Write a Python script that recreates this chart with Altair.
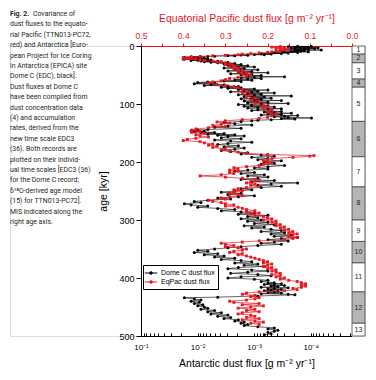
import altair as alt
import pandas as pd

RED = "#e8161e"

# ---------------- data ----------------
dome_age = [0.5, 1, 1.5, 2, 2.5, 3, 3.5, 4, 4.5, 5, 5.5, 6, 6.5, 7, 7.5, 8, 8.5, 9, 9.5, 10,
            10.5, 11, 11.5, 12, 12.5, 13, 13.5, 14, 14.5, 15, 15.5, 16, 16.5, 17, 17.5, 18,
            18.5, 19, 19.5, 20, 20.5, 21, 21.5, 22, 22.5, 23, 23.5, 24, 24.5, 25, 25.5, 26,
            26.5, 27, 27.5, 28, 28.5,
            29, 30, 31, 32, 33, 34, 35, 36, 37, 38, 39, 40, 41, 42, 43, 44, 45, 46, 47, 48, 49,
            50, 51, 52, 53, 54, 55, 56, 57,
            58, 59, 60, 61, 62, 63, 64, 65, 66, 67, 68, 69, 70, 71,
            72, 73, 74, 75, 76, 77, 78, 79, 80, 81, 82, 83, 84, 85, 86, 87, 88, 89, 90, 91, 92,
            93, 94, 95, 96, 97, 98, 99, 100, 101, 102, 103, 104, 105, 106, 107, 108, 109, 110,
            111, 112, 113, 114, 115, 116, 117, 118, 119, 120, 121, 122, 123, 124, 125, 126, 127,
            128, 129, 130,
            132, 134, 136, 138, 140, 142, 144, 145, 146, 147, 148, 149, 150, 151, 152, 153, 154,
            155, 156, 158, 160, 162, 164, 166, 168, 170, 172, 174, 176, 178, 180, 182, 184,
            186, 188, 190, 192, 194, 196, 198, 200, 202, 204, 206, 208, 210, 212, 214, 216, 218,
            220, 222, 224, 226, 228, 230, 232, 234, 236, 238, 240, 242, 244, 246,
            248, 250, 252, 254, 256, 258, 260, 262, 264, 266, 268, 270, 272, 274, 276, 278, 280,
            282, 284, 286, 288, 290, 292, 294, 296, 298, 300,
            302, 304, 306, 308, 310, 312, 314, 316, 318, 320, 322, 324, 326, 328, 330, 332, 334,
            336, 338,
            340, 342, 344, 346, 348, 350, 352, 354, 356, 358, 360, 362, 364, 366, 368, 370,
            372, 374, 376, 378, 380, 382, 384, 386, 388, 390, 392, 394, 396, 398, 400, 402, 404,
            406, 408, 409, 410, 411, 412, 413, 414, 415, 416, 417, 418, 419, 420, 421, 422, 423,
            424, 425, 426, 427, 428, 429,
            431, 433, 434, 436, 438, 440, 442, 444, 446, 448, 450, 452, 454, 456, 458, 460, 462,
            464, 466, 468, 470, 472,
            474, 476, 478, 480, 482, 484, 486, 488, 490, 492, 494, 496, 498]

dome_flux = [0.00017, 0.000097, 0.00025, 0.00011, 0.00019, 0.000074, 0.00015, 0.00022, 0.000085,
             0.00013, 0.00029, 0.00011, 0.00017, 0.000065, 0.00019, 0.00013, 0.00033, 0.00015,
             0.00022, 0.00011, 0.00029, 0.00017, 0.00044, 0.00025, 0.00057, 0.00033, 0.00075,
             0.00050, 0.00099, 0.00066, 0.0017, 0.0013, 0.0029, 0.0022, 0.0050, 0.0066,
             0.0130, 0.0087, 0.0171, 0.0099, 0.0149, 0.0076, 0.0130, 0.0066, 0.0114, 0.0171,
             0.0087, 0.0058, 0.0099, 0.0130, 0.0066, 0.0087, 0.0044, 0.0076, 0.0038, 0.0058,
             0.0029,
             0.0044, 0.0022, 0.0034, 0.0017, 0.0029, 0.0013, 0.0026, 0.00099, 0.0019, 0.0034,
             0.0015, 0.0022, 0.00086, 0.0017, 0.0029, 0.0011, 0.0019, 0.00057, 0.0015, 0.0026,
             0.0011, 0.0017, 0.00075, 0.0013, 0.00029, 0.00099, 0.0017, 0.00075, 0.0013,
             0.0022, 0.0011, 0.0034, 0.0017, 0.0066, 0.0099, 0.0050, 0.0114, 0.0058, 0.0034,
             0.0076, 0.0029, 0.0019, 0.0038,
             0.0017, 0.0029, 0.00099, 0.0019, 0.00057, 0.0015, 0.00086, 0.0026, 0.0011, 0.00044,
             0.0013, 0.00075, 0.0019, 0.00099, 0.00022, 0.0015, 0.00066, 0.0011, 0.00050, 0.0017,
             0.00075, 0.00099, 0.00033, 0.0015, 0.00086, 0.00057, 0.0013, 0.00025, 0.00075,
             0.0019, 0.0011, 0.00057, 0.0015, 0.00044, 0.00086, 0.0013, 0.00033, 0.00057,
             0.00086, 0.0011, 0.00050, 0.00033, 0.00066, 0.00044, 0.00022, 0.00057, 0.00033,
             0.00075, 0.00017, 0.00029, 0.00044, 0.00025, 0.000097, 0.00033, 0.00019, 0.00050,
             0.00086, 0.0011, 0.0017,
             0.0034, 0.0022, 0.0011, 0.0029, 0.0050, 0.0017, 0.0066, 0.0099, 0.0130, 0.0076,
             0.0114, 0.0050, 0.0087, 0.0034, 0.0066, 0.0022, 0.0044, 0.0015, 0.0029, 0.0038,
             0.0017, 0.0050, 0.0026, 0.0011, 0.0029, 0.0044, 0.0019, 0.0034, 0.0015, 0.0022,
             0.0038, 0.0026, 0.0013,
             0.0017, 0.00075, 0.00044, 0.0011, 0.00057, 0.00086, 0.00033, 0.00066, 0.00044,
             0.00075, 0.00029, 0.00057, 0.00099, 0.00057, 0.0013, 0.0022, 0.00099, 0.0017,
             0.00066, 0.0013, 0.00057, 0.00086, 0.0017, 0.00044, 0.0011, 0.00017, 0.00050,
             0.00086, 0.00033, 0.00075, 0.0017,
             0.0011, 0.0022, 0.0038, 0.0017, 0.0029, 0.00099, 0.0019, 0.0044, 0.0026, 0.0066,
             0.0114, 0.0087, 0.0171, 0.0130, 0.0066, 0.0099, 0.0044, 0.0022, 0.0038, 0.0017,
             0.00099, 0.0019, 0.00057, 0.0013, 0.00086, 0.0017, 0.00075,
             0.0013, 0.00057, 0.00099, 0.00044, 0.0015, 0.00066, 0.0011, 0.00050, 0.00033,
             0.00075, 0.00029, 0.00050, 0.00022, 0.00044, 0.00017, 0.00033, 0.00057, 0.00025,
             0.00044,
             0.00075, 0.00033, 0.00086, 0.0017, 0.0029, 0.0050, 0.0099, 0.0066, 0.0114, 0.0044,
             0.0076, 0.0034, 0.0050, 0.0022, 0.0038, 0.0017,
             0.0011, 0.0022, 0.00086, 0.0015, 0.00066, 0.0019, 0.0029, 0.0011, 0.00057, 0.0013,
             0.0026, 0.00086, 0.00050, 0.0017, 0.0029, 0.00099, 0.00057, 0.00075, 0.00044,
             0.00057, 0.00033, 0.00066, 0.00044, 0.00029, 0.00050, 0.00038, 0.00075, 0.00025,
             0.00044, 0.00057, 0.00033, 0.00050, 0.00066, 0.00038, 0.00044, 0.00057, 0.00033,
             0.00075, 0.00025, 0.00019,
             0.00086, 0.0044, 0.0171, 0.0114, 0.0087, 0.0130, 0.0093, 0.0114, 0.0081, 0.0099,
             0.0076, 0.0066, 0.0087, 0.0050, 0.0066, 0.0038, 0.0058, 0.0029, 0.0044, 0.0026,
             0.0034, 0.0019,
             0.0022, 0.0015, 0.0017, 0.0013, 0.0015, 0.00086, 0.00044, 0.00057, 0.00038,
             0.00044, 0.00057, 0.00050, 0.00066]

eq_age = [1, 2, 3, 4, 5, 6, 7, 8, 9, 10, 11, 12, 13, 14, 15, 16, 17, 18, 19, 20, 21, 22, 23,
          24, 25, 26, 27, 28, 29, 30,
          32, 34, 36, 38, 40, 42, 44, 46, 48, 50, 52, 54, 56,
          58, 60, 62, 64, 66, 68, 70,
          72, 75, 78, 81, 84, 87, 90, 93, 96, 99, 102, 105, 108, 111, 114, 117, 120, 123, 125,
          127, 129, 131, 133, 135, 137, 139, 141, 143, 145, 147, 149, 151, 153, 155, 157, 159,
          161, 163, 165, 167, 169, 171, 173, 175, 177, 179, 181, 183,
          185, 187, 189, 190, 192, 194, 196, 198, 200, 202, 204, 206,
          208, 210, 212, 214, 216, 218, 220, 222, 224, 226, 228, 230, 232,
          234, 236, 238, 240, 242,
          244, 246, 248, 250, 252, 254, 256, 258,
          260, 262, 264, 266, 268, 270, 272, 274, 276,
          278, 280, 282, 284, 286, 288, 290, 292,
          294, 296, 298, 300, 302, 304, 306, 308, 310,
          312, 314, 316, 318, 320, 322, 324, 326, 328, 330, 332, 334,
          336, 338, 340, 342,
          344, 346, 348, 350, 352, 354, 356, 358, 360, 362, 364, 366, 368,
          370, 372, 374, 376, 378, 380, 382, 384, 386, 388, 390, 392, 394, 396, 398, 400, 402,
          404, 406, 408, 410, 412, 414, 416, 418, 420,
          422, 424, 426, 428, 430, 432, 434, 436,
          438, 440, 442, 444, 446, 448,
          450, 452, 454, 456, 458, 460, 462, 464, 466, 468, 470,
          472, 474, 476, 478, 480]

eq_flux = [0.17, 0.19, 0.16, 0.18, 0.15, 0.17, 0.16, 0.18, 0.17, 0.19, 0.20, 0.22, 0.24, 0.26,
           0.27, 0.30, 0.33, 0.36, 0.38, 0.40, 0.39, 0.37, 0.40, 0.36, 0.35, 0.33, 0.31, 0.32,
           0.30, 0.29,
           0.30, 0.28, 0.29, 0.27, 0.28, 0.26, 0.27, 0.25, 0.26, 0.24, 0.25, 0.27, 0.29,
           0.30, 0.31, 0.33, 0.34, 0.32, 0.30, 0.28,
           0.27, 0.26, 0.25, 0.26, 0.24, 0.25, 0.23, 0.24, 0.22, 0.23, 0.21, 0.20, 0.21, 0.19,
           0.20, 0.18, 0.19, 0.20, 0.22,
           0.26, 0.30, 0.32, 0.29, 0.31, 0.33, 0.30, 0.34, 0.37, 0.38, 0.36, 0.38, 0.35, 0.37,
           0.36, 0.34, 0.37, 0.39, 0.40, 0.36, 0.35, 0.33, 0.34, 0.32, 0.33, 0.30, 0.31, 0.29,
           0.27,
           0.25, 0.20, 0.09, 0.10, 0.14, 0.19, 0.20, 0.21, 0.20, 0.19, 0.21, 0.22,
           0.25, 0.28, 0.27, 0.29, 0.27, 0.29, 0.28, 0.31, 0.36, 0.30, 0.26, 0.23, 0.22,
           0.24, 0.25, 0.23, 0.24, 0.22,
           0.25, 0.27, 0.28, 0.26, 0.28, 0.29, 0.27, 0.26,
           0.29, 0.31, 0.30, 0.34, 0.33, 0.31, 0.30, 0.28, 0.30,
           0.27, 0.26, 0.25, 0.23, 0.25, 0.22, 0.24, 0.23,
           0.21, 0.20, 0.19, 0.21, 0.18, 0.19, 0.18, 0.17, 0.18,
           0.16, 0.17, 0.15, 0.16, 0.14, 0.15, 0.13, 0.14, 0.15, 0.13, 0.14, 0.16,
           0.22, 0.26, 0.31, 0.30,
           0.28, 0.30, 0.27, 0.25, 0.26, 0.28, 0.29, 0.26, 0.27, 0.25, 0.24, 0.23, 0.22,
           0.21, 0.20, 0.21, 0.19, 0.20, 0.21, 0.19, 0.20, 0.18, 0.19, 0.18, 0.17, 0.19, 0.17,
           0.18, 0.16, 0.17,
           0.15, 0.13, 0.12, 0.11, 0.12, 0.11, 0.12, 0.14, 0.13,
           0.16, 0.22, 0.25, 0.26, 0.23, 0.24, 0.22, 0.23,
           0.25, 0.29, 0.28, 0.22, 0.26, 0.21,
           0.24, 0.27, 0.23, 0.25, 0.22, 0.26, 0.27, 0.24, 0.23, 0.25, 0.22,
           0.26, 0.23, 0.21, 0.24, 0.22]

mis_stage = [1, 2, 3, 4, 5, 6, 7, 8, 9, 10, 11, 12, 13]
mis_start = [0, 14, 29, 57, 71, 130, 191, 243, 300, 337, 374, 424, 478]
mis_end = [14, 29, 57, 71, 130, 191, 243, 300, 337, 374, 424, 478, 500]

age_ticks = [0, 100, 200, 300, 400, 500]
eq_ticks = [0.0, 0.05, 0.1, 0.15, 0.2, 0.25, 0.3, 0.35, 0.4, 0.45, 0.5]

caption_bold = "Fig. 2."
caption_first = "Covariance of"
caption_lines = [
    "dust fluxes to the equato-",
    "rial Pacific (TTN013-PC72,",
    "red) and Antarctica [Euro-",
    "pean Project for Ice Coring",
    "in Antarctica (EPICA) site",
    "Dome C (EDC), black].",
    "Dust fluxes at Dome C",
    "have been compiled from",
    "dust concentration data",
    "(4) and accumulation",
    "rates, derived from the",
    "new time scale EDC3",
    "(36). Both records are",
    "plotted on their individ-",
    "ual time scales [EDC3 (36)",
    "for the Dome C record;",
    "δ¹⁸O-derived age model",
    "(15) for TTN013-PC72].",
    "MIS indicated along the",
    "right age axis.",
]

# ---------------- tables ----------------
dome = pd.DataFrame({"age": dome_age, "flux": dome_flux})
dome["series"] = "Dome C dust flux"
eq = pd.DataFrame({"age": eq_age, "flux": eq_flux})
eq["series"] = "EqPac dust flux"

mis = pd.DataFrame({"stage": mis_stage, "start": mis_start, "end": mis_end})
mis["mid"] = (mis["start"] + mis["end"]) / 2
mis["even"] = mis["stage"] % 2 == 0
mis["x0"] = 0.0
mis["x1"] = 1.0
mis["xm"] = 0.5

cap = pd.DataFrame({"i": list(range(2, 2 + len(caption_lines))), "text": caption_lines})
cap_b = pd.DataFrame({"i": [1], "text": [caption_bold]})
cap_f = pd.DataFrame({"i": [1], "text": [caption_first]})

FONT = "Liberation Sans"
CAPFONT = "Roboto"
CAPSIZE = 6.9

W, H = 211, 290
y_scale = alt.Scale(domain=[0, 500], reverse=True, nice=False, zero=False)

y_axis = alt.Axis(orient="left", values=age_ticks, title="age [kyr]", titleFontSize=10.5,
                  titleFontWeight="normal", labelFontSize=9, tickSize=5, labelPadding=2,
                  titlePadding=10, grid=False, labelFlush=False, domainColor="#000",
                  tickColor="#000", labelColor="#000", titleColor="#000")

color_scale = alt.Scale(domain=["Dome C dust flux", "EqPac dust flux"], range=["#000000", RED])
legend = alt.Legend(title=None, orient="none", legendX=2, legendY=219, strokeColor="#000",
                    fillColor="#ffffff", padding=3, labelFontSize=7, labelFont=FONT,
                    symbolType="M-1.4,0H1.4M0.3,0A0.3,0.3,0,1,1,-0.3,0A0.3,0.3,0,1,1,0.3,0",
                    symbolSize=80, symbolStrokeWidth=1, rowPadding=0, labelOffset=5,
                    cornerRadius=0)

minor = [m * d for d in [0.01, 0.001, 0.0001, 0.00001] for m in range(1, 10)]
bottom_vals = [0.1] + [v for v in minor if v >= 1.9e-5]

label_expr = ("abs(log(datum.value)/LN10 - round(log(datum.value)/LN10)) < 0.001 ? "
              "'10' + ['⁰','⁻¹','⁻²','⁻³','⁻⁴','⁻⁵'][-round(log(datum.value)/LN10)] : ''")
top_label_expr = ("abs(datum.value*10 - round(datum.value*10)) < 0.001 ? "
                  "format(datum.value, '.1f') : ''")

black = alt.Chart(dome).mark_line(
    strokeWidth=0.6,
    point=alt.OverlayMarkDef(filled=True, size=9, shape="circle", opacity=1),
).encode(
    x=alt.X("flux:Q",
            scale=alt.Scale(type="log", domain=[1.86e-5, 0.1], reverse=True, nice=False),
            axis=alt.Axis(orient="bottom", values=bottom_vals, labelExpr=label_expr,
                          title="Antarctic dust flux [g m⁻² yr⁻¹]", titleFontSize=10.5,
                          titleFontWeight="normal", labelFontSize=8,
                          tickSize=alt.ExprRef(expr="-3"), labelPadding=10,
                          titlePadding=7, grid=False, labelFlush=False, labelOverlap=False,
                          domainColor="#000", tickColor="#000", labelColor="#000",
                          titleColor="#000")),
    y=alt.Y("age:Q", scale=y_scale, axis=y_axis),
    color=alt.Color("series:N", scale=color_scale, legend=legend),
    order=alt.Order("age:Q"),
)

red = alt.Chart(eq).mark_line(
    strokeWidth=0.7,
    point=alt.OverlayMarkDef(filled=True, size=8, shape="square", opacity=1),
).encode(
    x=alt.X("flux:Q", scale=alt.Scale(domain=[0, 0.5], reverse=True, nice=False, zero=False),
            axis=alt.Axis(orient="top", values=eq_ticks, labelExpr=top_label_expr,
                          title="Equatorial Pacific dust flux [g m⁻² yr⁻¹]",
                          titleFontSize=10.5, titleFontWeight="normal", labelFontSize=8.5,
                          tickSize=3, labelPadding=3, titlePadding=8, grid=False,
                          labelFlush=False, labelOverlap=False, domainColor=RED,
                          tickColor=RED, labelColor=RED, titleColor=RED)),
    y=alt.Y("age:Q", scale=y_scale, axis=y_axis),
    color=alt.Color("series:N", scale=color_scale, legend=legend),
    order=alt.Order("age:Q"),
)

main = alt.layer(black, red).resolve_scale(x="independent").properties(width=W, height=H)

# MIS column
mis_rect = alt.Chart(mis).mark_rect(stroke="#444", strokeWidth=0.8).encode(
    x=alt.X("x0:Q", scale=alt.Scale(domain=[0, 1]), axis=None),
    x2="x1:Q",
    y=alt.Y("start:Q", scale=y_scale,
            axis=alt.Axis(orient="left", values=[100, 200, 300, 400], labels=False,
                          title=None, tickSize=4, grid=False, domainColor="#000",
                          tickColor="#000")),
    y2="end:Q",
    fill=alt.Fill("even:N", scale=alt.Scale(domain=[False, True], range=["#ffffff", "#b5b5b5"]),
                  legend=None),
)
mis_text = alt.Chart(mis).mark_text(fontSize=7, color="#222", font=FONT).encode(
    x=alt.X("xm:Q", scale=alt.Scale(domain=[0, 1]), axis=None),
    y=alt.Y("mid:Q", scale=y_scale, axis=None),
    text="stage:N",
)
mis_panel = alt.layer(mis_rect, mis_text).properties(width=13, height=H)

# caption column (line index 1 at top)
cap_scale = alt.Scale(domain=[4.077, 31.96], reverse=True, nice=False, zero=False)
cap_main = alt.Chart(cap).mark_text(align="left", baseline="middle", fontSize=CAPSIZE,
                                    font=CAPFONT, color="#231f20").encode(
    x=alt.value(0), y=alt.Y("i:Q", scale=cap_scale, axis=None), text="text:N")
cap_bold = alt.Chart(cap_b).mark_text(align="left", baseline="middle", fontSize=CAPSIZE,
                                      font=CAPFONT, fontWeight="bold",
                                      color="#231f20").encode(
    x=alt.value(0), y=alt.Y("i:Q", scale=cap_scale, axis=None), text="text:N")
cap_first = alt.Chart(cap_f).mark_text(align="left", baseline="middle", fontSize=CAPSIZE,
                                       font=CAPFONT, color="#231f20").encode(
    x=alt.value(23), y=alt.Y("i:Q", scale=cap_scale, axis=None), text="text:N")
cap_panel = alt.layer(cap_main, cap_bold, cap_first).properties(width=131, height=H)

chart = alt.hconcat(cap_panel, main, mis_panel, spacing=0, bounds="flush").resolve_legend(
    color="independent"
).properties(
    padding={"left": 9, "top": 9, "right": 5, "bottom": 5},
    background="#ffffff",
).configure_view(stroke=None).configure(font=FONT)

chart.save("out.html", embed_options={"renderer": "svg", "actions": False})
